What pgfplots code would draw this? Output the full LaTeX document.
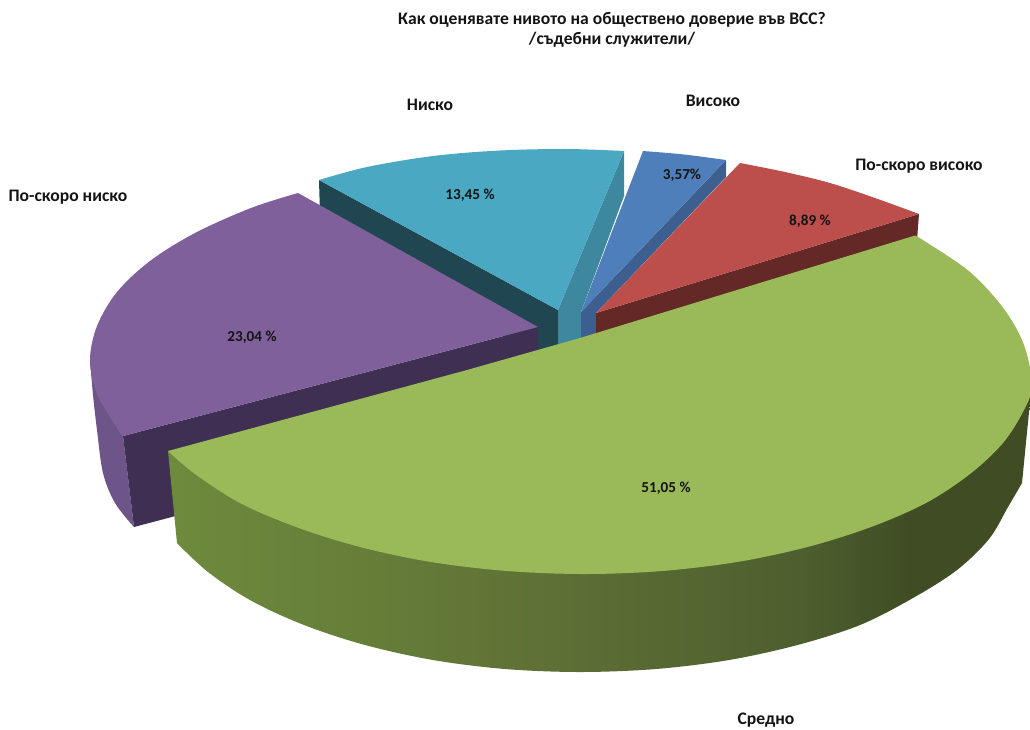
\documentclass[border=0pt]{standalone}
\usepackage{pgfplots}
\pgfplotsset{compat=1.18}
\usepackage{fontspec}
\setmainfont{Carlito}
\definecolor{purpT}{HTML}{7F609B}\definecolor{purpS}{HTML}{6D5489}\definecolor{purpD}{HTML}{3F2F52}
\definecolor{tealT}{HTML}{4AA8C2}\definecolor{tealS}{HTML}{3D879F}\definecolor{tealD}{HTML}{1F4651}
\definecolor{blueT}{HTML}{4E7FBA}\definecolor{blueS}{HTML}{3C5F8F}
\definecolor{redT}{HTML}{BC4F4C}\definecolor{redS}{HTML}{642826}
\definecolor{greenT}{HTML}{9ABA59}
\pgfdeclarehorizontalshading{greenside}{100bp}{
 rgb(0bp)=(0.52,0.64,0.29);
 rgb(19bp)=(0.45,0.57,0.25);
 rgb(37bp)=(0.40,0.49,0.22);
 rgb(47bp)=(0.37,0.44,0.21);
 rgb(62bp)=(0.30,0.37,0.18);
 rgb(68bp)=(0.25,0.30,0.14);
 rgb(100bp)=(0.25,0.29,0.135)}
\tikzset{
  lbl/.style={font=\fontsize{17.6}{21}\selectfont\bfseries,text=black!92,inner sep=0pt},
  val/.style={font=\fontsize{15.2}{18}\selectfont\bfseries,text=black!92,inner sep=0pt},
}
\begin{document}
\begin{tikzpicture}
\begin{axis}[
  name=ax,
  width=1030pt,height=729pt,scale only axis,
  xmin=0,xmax=1030,ymin=0,ymax=729,y dir=reverse,
  hide axis,clip=true,no markers,
]
% teal
\addplot[fill=tealD,draw=none] coordinates {(319,180)(558,310)(558,350)(538,360)(320,215)} -- cycle;
\addplot[fill=tealS,draw=none] coordinates {(624,151)(624,196)(581,312)(581,340)(558,350)(558,310)} -- cycle;
\addplot[fill=tealT,draw=none,smooth,tension=0.55] coordinates {(319,180)(367,167)(433,156)(500,150.5)(567,149)(624,151)} -- (axis cs:558,310) -- cycle;
% blue
\addplot[fill=blueS,draw=none] coordinates {(726,160)(726,177)(596,313)(596,338)(581,342)(581,312)} -- cycle;
\addplot[fill=blueT,draw=none,smooth,tension=0.55] coordinates {(643,151)(684,154.5)(726,160)} -- (axis cs:581,312) -- cycle;
% red
\addplot[fill=redS,draw=none] coordinates {(596,313)(919,214)(917,240)(596,338)} -- cycle;
\addplot[fill=redT,draw=none,smooth,tension=0.55] coordinates {(740,163)(785,172)(830,183)(875,198)(919,214)} -- (axis cs:596,313) -- cycle;
% purple
\addplot[fill=purpS,draw=none,smooth,tension=0.55] coordinates {(90,360)(93,395)(97,430)(103,473)(115,503)(134,527)} -- (axis cs:123,436) -- (axis cs:100,400) -- cycle;
\addplot[fill=purpD,draw=none] coordinates {(123,436)(538,327)(538,420)(134,527)} -- cycle;
\addplot[fill=purpT,draw=none,smooth,tension=0.55] coordinates {(298,193)(251,208)(195,233)(150,261)(117,292)(97,326)(90,360)(97,394)(117,428)(123,436)} -- (axis cs:538,327) -- cycle;
% green
\addplot[shading=greenside,draw=none,smooth,tension=0.55] coordinates {(177,543)(208,572)(251,600.6)(304,625)(365,645)(433,660)(505,669)(580,672)(656,669)(729,660)(797.5,645)(860,625)(913,598)(957,570)(989,539)(1008,507)(1022,483)} -- (axis cs:1030,402) -- (axis cs:1032,385) -- (axis cs:900,400) -- (axis cs:168,451) -- cycle;
\addplot[fill=greenT,draw=none,smooth,tension=0.55] coordinates {(168,451)(195,474)(240,503)(296,527)(360,547)(431,562)(507,571)(585,574)(662,571)(737,562)(807.5,547)(871,527)(926,503)(970,474)(1003,443)(1024,410)(1032,385)(1024,345)(1004,309)(970,272)(926,242)(915,235.5)} -- (axis cs:580,338) -- (axis cs:467,370) -- cycle;
% text
\node[font=\fontsize{17.6}{20.5}\selectfont\bfseries,text=black!92,align=center] at (axis cs:612,30) {Как оценявате нивото на обществено доверие във ВСС?\\/съдебни служители/};
\node[lbl] at (axis cs:430,105) {Ниско};
\node[lbl] at (axis cs:713,101) {Високо};
\node[lbl] at (axis cs:919,166) {По-скоро високо};
\node[lbl] at (axis cs:68,197) {По-скоро ниско};
\node[lbl] at (axis cs:766,720) {Средно};
\node[val] at (axis cs:470,195) {13,45 \%};
\node[val] at (axis cs:682,175) {3,57\%};
\node[val] at (axis cs:810,221) {8,89 \%};
\node[val] at (axis cs:252,337) {23,04 \%};
\node[val] at (axis cs:666,488) {51,05 \%};
\end{axis}
\path (ax.south west) rectangle (ax.north east);
\end{tikzpicture}
\end{document}
